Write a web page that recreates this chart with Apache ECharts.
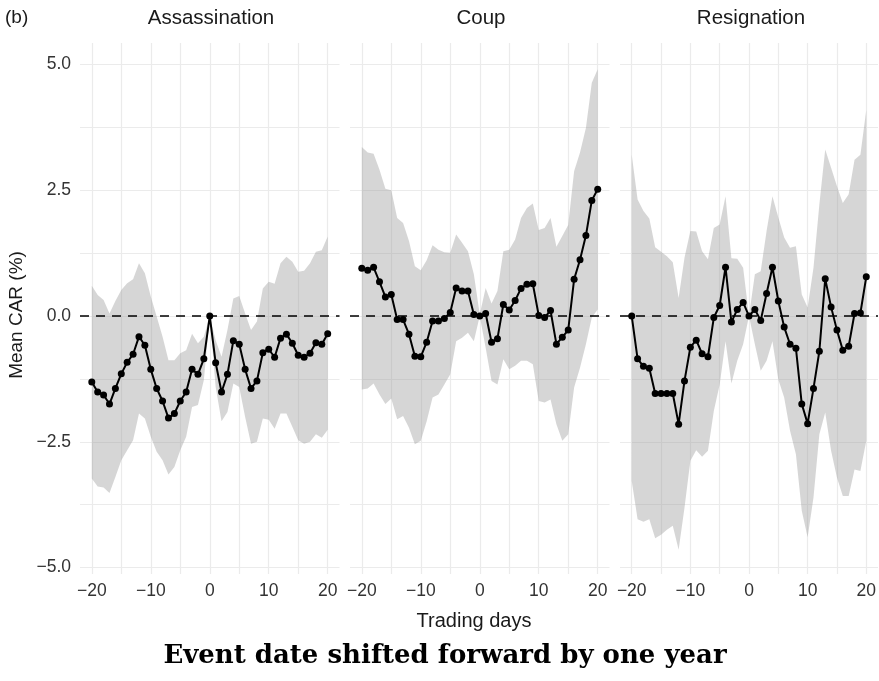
<!DOCTYPE html>
<html>
<head>
<meta charset="utf-8">
<script src="https://cdn.jsdelivr.net/npm/echarts@6/dist/echarts.min.js"></script>
<style>
  html, body { margin: 0; padding: 0; background: #fff; }
  #main { width: 879px; height: 681px; }
</style>
</head>
<body>
<div id="main"></div>
<script>
// trading days relative to the (shifted) event date
var days = [-20,-19,-18,-17,-16,-15,-14,-13,-12,-11,-10,-9,-8,-7,-6,-5,-4,-3,-2,-1,0,
            1,2,3,4,5,6,7,8,9,10,11,12,13,14,15,16,17,18,19,20];

var panelNames = ['Assassination', 'Coup', 'Resignation'];

// mean CAR (%) and the band around it
var assassMean = [-1.31,-1.51,-1.57,-1.75,-1.44,-1.15,-0.92,-0.76,-0.41,-0.58,-1.06,-1.44,-1.69,-2.03,-1.94,-1.69,-1.51,-1.06,-1.16,-0.85,0,
                  -0.93,-1.51,-1.16,-0.49,-0.56,-1.06,-1.44,-1.29,-0.73,-0.66,-0.82,-0.44,-0.36,-0.54,-0.78,-0.82,-0.74,-0.53,-0.56,-0.35];
var assassUpper = [0.60,0.42,0.32,0.05,0.30,0.52,0.65,0.73,1.05,0.85,0.39,-0.01,-0.41,-0.88,-0.88,-0.74,-0.68,-0.35,-0.54,-0.41,0,
                   -0.48,-0.81,-0.28,0.35,0.40,0.05,-0.28,-0.11,0.55,0.68,0.64,1.05,1.18,1.08,0.88,0.90,1.05,1.28,1.31,1.58];
var assassLower = [-3.23,-3.39,-3.41,-3.52,-3.20,-2.87,-2.67,-2.47,-1.94,-2.04,-2.40,-2.70,-2.87,-3.15,-3.00,-2.67,-2.40,-1.81,-1.77,-1.27,0,
                   -1.41,-2.09,-1.91,-1.34,-1.41,-2.01,-2.54,-2.50,-2.04,-2.06,-2.24,-1.94,-1.94,-2.20,-2.47,-2.54,-2.50,-2.35,-2.42,-2.26];

var coupMean = [0.95,0.91,0.97,0.68,0.38,0.43,-0.07,-0.07,-0.36,-0.80,-0.81,-0.52,-0.10,-0.10,-0.05,0.07,0.56,0.50,0.50,0.03,0,
                0.05,-0.52,-0.45,0.23,0.12,0.31,0.55,0.63,0.64,0.01,-0.03,0.11,-0.56,-0.42,-0.28,0.73,1.12,1.60,2.30,2.52];
var coupUpper = [3.36,3.25,3.23,2.91,2.53,2.50,1.95,1.85,1.49,0.99,0.91,1.11,1.41,1.32,1.27,1.26,1.62,1.46,1.29,0.83,0.03,
                 0.56,0.25,0.50,1.29,1.32,1.52,1.95,2.15,2.24,1.71,1.75,1.95,1.38,1.59,1.81,2.88,3.25,3.74,4.64,4.91];
var coupLower = [-1.46,-1.44,-1.34,-1.56,-1.75,-1.64,-2.05,-1.99,-2.22,-2.55,-2.48,-2.09,-1.62,-1.56,-1.36,-1.16,-0.50,-0.43,-0.33,-0.50,0,
                 -0.63,-1.29,-1.36,-0.86,-1.06,-0.99,-0.89,-0.89,-0.96,-1.69,-1.72,-1.66,-2.15,-2.48,-2.35,-1.42,-1.03,-0.56,-0.03,0.13];

var resignMean = [0,-0.85,-1.00,-1.04,-1.54,-1.54,-1.54,-1.54,-2.15,-1.29,-0.62,-0.48,-0.75,-0.81,-0.03,0.21,0.97,-0.12,0.13,0.27,0,
                  0.13,-0.09,0.45,0.97,0.30,-0.22,-0.56,-0.64,-1.75,-2.14,-1.44,-0.70,0.74,0.18,-0.28,-0.68,-0.60,0.05,0.06,0.78];
var resignUpper = [3.21,2.32,2.09,1.94,1.37,1.28,1.19,1.07,0.36,1.16,1.69,1.68,1.29,1.13,1.75,1.82,2.38,1.15,1.14,0.96,0,
                   0.83,0.89,1.69,2.38,1.96,1.56,1.36,1.39,0.43,0.17,0.96,2.22,3.31,2.95,2.58,2.25,2.42,3.11,3.21,4.10];
var resignLower = [-3.28,-4.04,-4.09,-4.04,-4.42,-4.35,-4.25,-4.17,-4.65,-3.81,-2.88,-2.67,-2.80,-2.68,-1.89,-1.36,-0.50,-1.34,-0.89,-0.56,0,
                   -0.56,-1.09,-0.89,-0.50,-1.26,-1.62,-2.28,-2.75,-3.87,-4.40,-3.61,-2.35,-1.92,-2.68,-3.21,-3.58,-3.58,-3.05,-3.08,-2.48];

var xLabelTicks = [-20, -10, 0, 10, 20];
var xGridTicks = [-20, -15, -10, -5, 0, 5, 10, 15, 20];
var yLabelTicks = [-5, -2.5, 0, 2.5, 5];
var yGridTicks = [-5, -3.75, -2.5, -1.25, 0, 1.25, 2.5, 3.75, 5];

var means = [assassMean, coupMean, resignMean];
var uppers = [assassUpper, coupUpper, resignUpper];
var lowers = [assassLower, coupLower, resignLower];

var panelLeft = [80, 350, 620];
var gridColor = '#ebebeb';
var sansFont = 'Liberation Sans, Arial, sans-serif';

function minusFmt(v) {
  return String(v).replace('-', '\u2212');
}

// ribbon: one polygon through the upper edge then back along the lower edge
function bandRenderer(params, api) {
  if (params.dataIndex !== 0) return null;
  var pts = [];
  var d;
  for (d = 0; d < days.length; d++) pts.push(api.coord([api.value(0, d), api.value(2, d)]));
  for (d = days.length - 1; d >= 0; d--) pts.push(api.coord([api.value(0, d), api.value(1, d)]));
  return {
    type: 'polygon',
    shape: { points: pts },
    style: { fill: 'rgba(153,153,153,0.4)' },
    silent: true
  };
}

var grids = [], xAxes = [], yAxes = [], series = [], graphics = [];

for (var p = 0; p < 3; p++) {
  grids.push({ left: panelLeft[p], width: 259.5, top: 43, height: 531 });
  xAxes.push({
    type: 'value', gridIndex: p, min: -22, max: 22,
    axisLine: { show: false },
    axisTick: { show: false, customValues: xGridTicks },
    axisLabel: {
      customValues: xLabelTicks, color: '#333', fontSize: 17.5, fontFamily: sansFont, margin: 8,
      formatter: minusFmt
    },
    splitLine: { show: true, lineStyle: { color: gridColor, width: 1.2 } }
  });
  yAxes.push({
    type: 'value', gridIndex: p, min: -5.13, max: 5.43,
    axisLine: { show: false },
    axisTick: { show: false, customValues: yGridTicks },
    axisLabel: {
      show: p === 0, customValues: yLabelTicks, color: '#333', fontSize: 17.5, fontFamily: sansFont, margin: 9,
      formatter: function (v) { return v.toFixed(1).replace('-', '\u2212'); }
    },
    splitLine: { show: true, lineStyle: { color: gridColor, width: 1.2 } }
  });

  var bandData = [], meanData = [];
  for (var i = 0; i < days.length; i++) {
    bandData.push([days[i], lowers[p][i], uppers[p][i]]);
    meanData.push([days[i], means[p][i]]);
  }
  series.push({
    type: 'custom', xAxisIndex: p, yAxisIndex: p,
    renderItem: bandRenderer,
    data: bandData,
    encode: { x: 0, y: [1, 2] },
    silent: true, z: 1
  });
  series.push({
    type: 'line', xAxisIndex: p, yAxisIndex: p, data: meanData,
    symbol: 'circle', symbolSize: 7,
    itemStyle: { color: '#000' },
    lineStyle: { color: '#000', width: 2 },
    z: 3,
    markLine: {
      silent: true, symbol: 'none', label: { show: false },
      lineStyle: { color: '#000', type: [9, 7], width: 1.6 },
      data: [{ yAxis: 0 }],
      z: 2
    }
  });

  graphics.push({
    type: 'text', x: panelLeft[p] + 131, y: 18,
    style: { text: panelNames[p], fill: '#1a1a1a', font: '20.5px ' + sansFont, align: 'center', verticalAlign: 'middle' }
  });
}

graphics.push({
  type: 'text', x: 5, y: 18,
  style: { text: '(b)', fill: '#1a1a1a', font: '19px ' + sansFont, align: 'left', verticalAlign: 'middle' }
});
graphics.push({
  type: 'text', x: 17, y: 315, rotation: Math.PI / 2,
  style: { text: 'Mean CAR (%)', fill: '#1a1a1a', font: '19px ' + sansFont, align: 'center', verticalAlign: 'middle' }
});
graphics.push({
  type: 'text', x: 474, y: 621,
  style: { text: 'Trading days', fill: '#1a1a1a', font: '20px ' + sansFont, align: 'center', verticalAlign: 'middle' }
});
graphics.push({
  type: 'text', x: 445, y: 656,
  style: { text: 'Event date shifted forward by one year', fill: '#000', font: 'bold 26px DejaVu Serif, Liberation Serif, serif', align: 'center', verticalAlign: 'middle' }
});

var myChart = echarts.init(document.getElementById('main'), null, { renderer: 'canvas' });
myChart.setOption({
  animation: false,
  backgroundColor: '#fff',
  grid: grids,
  xAxis: xAxes,
  yAxis: yAxes,
  series: series,
  graphic: graphics
});
</script>
</body>
</html>
